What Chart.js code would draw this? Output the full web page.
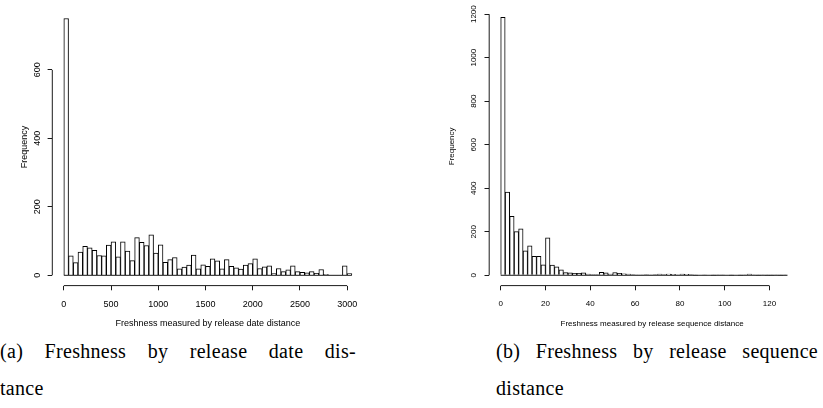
<!DOCTYPE html>
<html>
<head>
<meta charset="utf-8">
<script src="https://cdn.jsdelivr.net/npm/chart.js@4.4.0/dist/chart.umd.min.js"></script>
<style>
  body { margin: 0; width: 823px; height: 408px; background: #fff; position: relative; overflow: hidden; }
  .box { position: absolute; top: 0; height: 340px; }
  #boxA { left: 0; width: 411px; }
  #boxB { left: 411px; width: 412px; }
  .cap { position: absolute; font-family: "Liberation Serif", serif; font-size: 20px; line-height: 20px; letter-spacing: 0.3px; color: #000; white-space: nowrap; }
  .just { text-align: justify; text-align-last: justify; white-space: normal; }
</style>
</head>
<body>
<div class="box" id="boxA"><canvas id="dateHist" width="411" height="340"></canvas></div>
<div class="box" id="boxB"><canvas id="seqHist" width="412" height="340"></canvas></div>

<div class="cap just" style="left:0; top:341px; width:356px;">(a) Freshness by release date dis-</div>
<div class="cap" style="left:0; top:378px;">tance</div>
<div class="cap just" style="left:496px; top:341px; width:322px;">(b) Freshness by release sequence</div>
<div class="cap" style="left:496px; top:378px;">distance</div>

<script>
"use strict";

//release date distance, bins of 50 from 0 to 3050
const dateBinWidth = 50;
const dateCounts = [
  750, 57, 37, 68, 85, 80, 73, 58, 57, 88,
  98, 54, 98, 71, 43, 110, 96, 87, 118, 65,
  89, 38, 46, 52, 19, 24, 30, 59, 19, 31,
  26, 48, 42, 19, 46, 26, 22, 18, 30, 34,
  48, 20, 25, 28, 5, 20, 11, 16, 28, 11,
  9, 7, 11, 6, 17, 3, 1, 1, 1, 28,
  5,
];
const dateXTicks = [0, 500, 1000, 1500, 2000, 2500, 3000];
const dateYTicks = [0, 200, 400, 600];

//release sequence distance, bins of 2 from 0 to 128
const seqBinWidth = 2;
const seqCounts = [
  1185, 382, 271, 201, 213, 112, 135, 87, 87, 48,
  172, 47, 39, 25, 12, 11, 9, 9, 11, 5,
  3, 3, 14, 11, 5, 13, 9, 7, 5, 3,
  2, 2, 3, 2, 3, 5, 3, 6, 4, 2,
  5, 4, 3, 1, 0, 2, 0, 1, 2, 2,
  0, 1, 0, 1, 2, 5, 2, 1, 2, 1,
  1, 2, 1, 2,
];
const seqXTicks = [0, 20, 40, 60, 80, 100, 120];
const seqYTicks = [0, 200, 400, 600, 800, 1000, 1200];

// R style axes: lines only from first to last tick, plus the histogram baseline
const rAxes = {
  id: "rAxes",
  afterDatasetsDraw(chart, args, opts) {
    const { ctx, chartArea, scales } = chart;
    const x = scales.x;
    const y = scales.y;
    ctx.save();
    ctx.strokeStyle = "#000";
    ctx.lineWidth = 0.9;
    ctx.beginPath();
    ctx.moveTo(x.getPixelForValue(x.ticks[0].value), chartArea.bottom);
    ctx.lineTo(x.getPixelForValue(x.ticks[x.ticks.length - 1].value), chartArea.bottom);
    ctx.moveTo(chartArea.left, y.getPixelForValue(y.ticks[0].value));
    ctx.lineTo(chartArea.left, y.getPixelForValue(y.ticks[y.ticks.length - 1].value));
    ctx.moveTo(x.getPixelForValue(opts.from), y.getPixelForValue(0));
    ctx.lineTo(x.getPixelForValue(opts.to), y.getPixelForValue(0));
    ctx.stroke();
    ctx.restore();
  },
};

const plain = (v) => String(v);

const histChart = (id, c) => {
  const points = c.counts.map((v, i) => ({ x: i * c.bin + c.bin / 2, y: v }));
  const tickFont = { family: "Liberation Sans", size: c.font };
  return new Chart(document.getElementById(id), {
    type: "bar",
    data: {
      datasets: [
        {
          data: points,
          backgroundColor: "#fff",
          borderColor: "#000",
          borderWidth: 1,
          barPercentage: 1,
          categoryPercentage: 1,
        },
      ],
    },
    plugins: [rAxes],
    options: {
      responsive: false,
      animation: false,
      events: [],
      layout: { padding: { left: 0, top: c.top, right: c.right, bottom: 0 } },
      plugins: {
        legend: { display: false },
        tooltip: { enabled: false },
        rAxes: { from: 0, to: c.counts.length * c.bin },
      },
      scales: {
        x: {
          type: "linear",
          offset: false,
          min: c.xMin,
          max: c.xMax,
          afterBuildTicks: (s) => { s.ticks = c.xTicks.map((v) => ({ value: v })); },
          afterFit: (s) => { s.height = c.xAxisH; },
          border: { display: false },
          grid: { offset: false, drawOnChartArea: false, drawTicks: true, tickLength: 4.7, color: "#000", lineWidth: 0.9 },
          ticks: { color: "#000", font: tickFont, padding: 8.5, maxRotation: 0, autoSkip: false, callback: plain },
          title: {
            display: true,
            text: c.xTitle,
            color: "#000",
            font: tickFont,
            padding: { top: 0, bottom: c.xTitlePad },
          },
        },
        y: {
          type: "linear",
          min: c.yMin,
          max: c.yMax,
          afterBuildTicks: (s) => { s.ticks = c.yTicks.map((v) => ({ value: v })); },
          afterFit: (s) => { s.width = c.yAxisW; },
          border: { display: false },
          grid: { drawOnChartArea: false, drawTicks: true, tickLength: 4.7, color: "#000", lineWidth: 0.9 },
          ticks: {
            color: "#000",
            font: tickFont,
            padding: c.yTickPad,
            minRotation: 90,
            maxRotation: 90,
            crossAlign: "center",
            autoSkip: false,
            callback: plain,
          },
          title: {
            display: true,
            text: "Frequency",
            color: "#000",
            font: tickFont,
            padding: { top: c.yTitlePad, bottom: 0 },
          },
        },
      },
    },
  });
};

//LEFT: release date distance
histChart("dateHist", {
  counts: dateCounts,
  bin: dateBinWidth,
  xTicks: dateXTicks,
  yTicks: dateYTicks,
  xMin: -122,
  xMax: 3172,
  yMin: -30,
  yMax: 780,
  top: 7.5,
  right: 47.6,
  xAxisH: 54.4,
  yAxisW: 52.3,
  font: 9,
  yTickPad: 2.8,
  yTitlePad: 19.5,
  xTitlePad: 10.9,
  xTitle: "Freshness measured by release date distance",
});

//RIGHT: release sequence distance
histChart("seqHist", {
  counts: seqCounts,
  bin: seqBinWidth,
  xTicks: seqXTicks,
  yTicks: seqYTicks,
  xMin: -5.13,
  xMax: 140.3,
  yMin: -47.4,
  yMax: 1232.4,
  top: 7.1,
  right: 8,
  xAxisH: 54.4,
  yAxisW: 78.2,
  font: 8,
  yTickPad: 2.2,
  yTitlePad: 36.2,
  xTitlePad: 11.5,
  xTitle: "Freshness measured by release sequence distance",
});
</script>
</body>
</html>
